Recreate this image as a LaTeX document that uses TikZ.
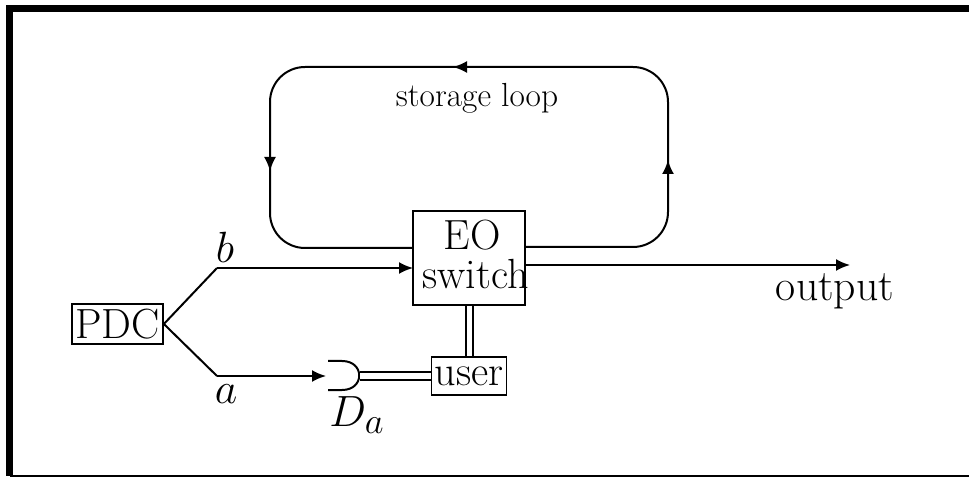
\documentclass[tikz,border=0pt]{standalone}
\usepackage{amsmath}
\usepackage{tikz}
\usetikzlibrary{arrows.meta}

\tikzset{
	boxed/.style={draw, line width=0.35mm, inner sep=0pt, align=center, font=\fontsize{24}{22.2}\selectfont},
	classical/.style={line width=0.4mm, double, double distance=1mm},
	fiber/.style={line width=0.4mm, >={Latex[length=2.8mm,width=2.4mm]}},
	lbl/.style={inner sep=0pt, font=\fontsize{24.88}{22.2}\selectfont}
}

\begin{document}
\begin{tikzpicture}[x=0.2mm, y=-0.2mm]
			\useasboundingbox (0,0) rectangle (969,477);
			% frame
			\draw[line width=1.45mm] (969,8.5) -- (9.5,8.5) -- (9.5,476);
			\draw[line width=0.6mm] (9.5,476) -- (969,476);
			
			\node[boxed, minimum width=18.2mm, minimum height=8mm] (pdc) at (117.5, 324) {PDC};
			\node[boxed, minimum width=22.4mm, minimum height=18.8mm] (eo) at (469, 258) {\hspace*{1.2mm}EO\\\makebox[0pt]{\hspace*{2.6mm}switch}\rule[-1.6mm]{0pt}{0pt}};
			\node[boxed, minimum width=15mm, minimum height=7.6mm] (user) at (469, 376) {user};
			
			\coordinate (bbend) at (217, 268);
			\coordinate (abend) at (217, 376);
			\coordinate (loopout) at (525, 247);
			\coordinate (loopin) at (413, 248);
			\coordinate (eoout) at (525, 265);
			\coordinate (eob) at (413, 268);
			\coordinate (outend) at (850, 265);
			\coordinate (deta) at (326, 376);
			\coordinate (detb) at (360, 376);
			
			\draw[fiber] (pdc.east) -- (bbend);
			\draw[fiber, ->] (bbend) -- (eob);
			\draw[fiber] (pdc.east) -- (abend);
			\draw[fiber, ->] (abend) -- (deta);
			\draw[fiber, ->] (eoout) -- (outend);
			
			% storage loop
			\draw[fiber, rounded corners=7mm] (loopout) -- (668, 247) -- (668, 67) -- (270, 67) -- (270, 248) -- (loopin);
			\draw[fiber, ->] (668, 180) -- (668, 160);
			\draw[fiber, ->] (480, 67) -- (453, 67);
			\draw[fiber, ->] (270, 150) -- (270, 171);
			
			% detector
			\draw[fiber] (328, 361) -- (342, 361) .. controls (365, 361) and (365, 390) .. (342, 390) -- (328, 390);
			\draw[classical] (detb) -- (user.west);
			\draw[classical] (eo) -- (user);
			
			\node[lbl] (b) at (225, 247) {$b$};
			\node[lbl] (a) at (226, 394) {$a$};
			\node[lbl] (da) at (357, 415) {$D_a$};
			\node[lbl] (output) at (835, 291) {output};
			\node[inner sep=0pt, font=\fontsize{19}{20}\selectfont] (storage) at (477, 98) {storage loop};
			
			\end{tikzpicture}
\end{document}
